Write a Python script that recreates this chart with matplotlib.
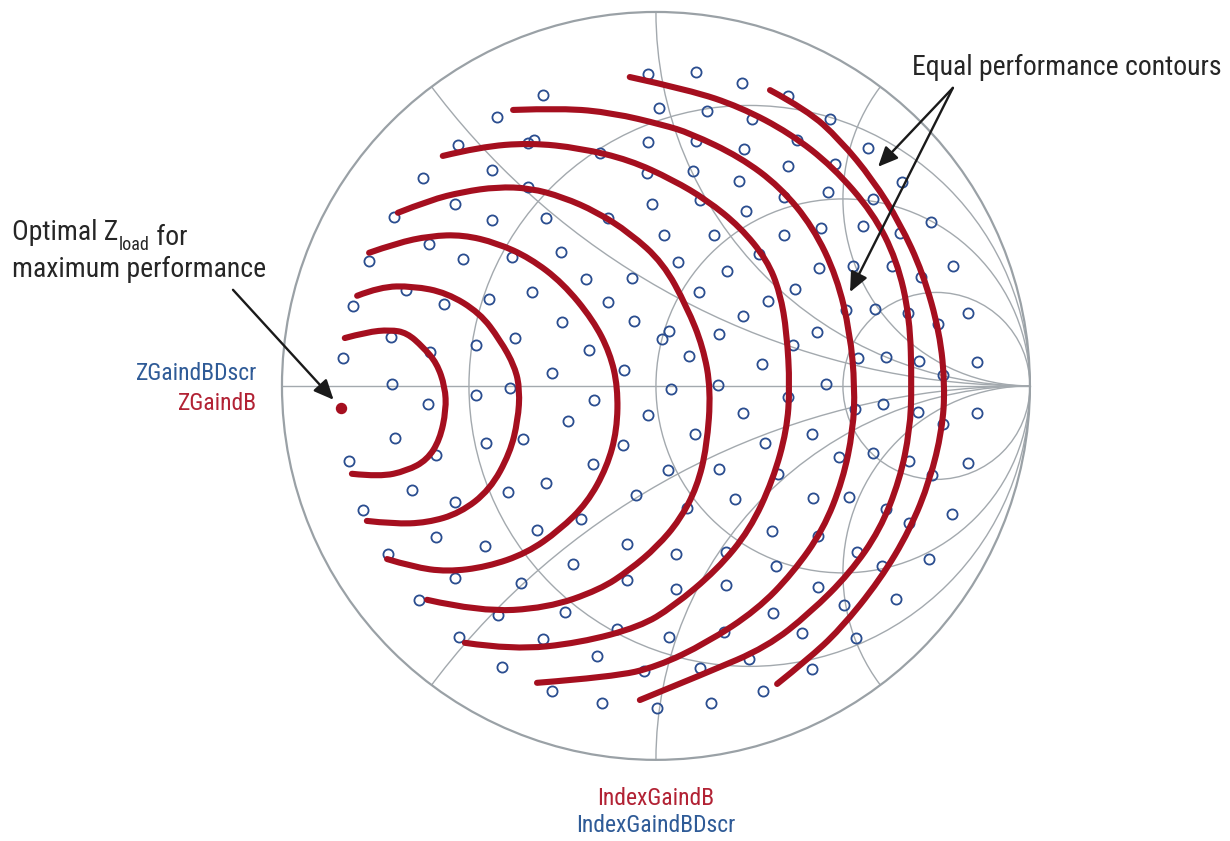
import numpy as np
import matplotlib
matplotlib.use('Agg')
import matplotlib.pyplot as plt
from matplotlib import font_manager
from matplotlib.patches import Circle, PathPatch
from matplotlib.path import Path


def find_condensed():
    # look for any narrow / condensed sans face among the installed fonts
    prefs = ['Liberation Sans Narrow', 'Roboto Condensed', 'Open Sans Condensed',
             'Noto Sans', 'DejaVu Sans', 'Roboto', 'Open Sans']
    best = None
    for f in font_manager.fontManager.ttflist:
        tag = (f.name + ' ' + f.fname).lower()
        narrow = f.stretch in ('condensed', 'semi-condensed') or 'narrow' in tag or \
            ('condensed' in tag and 'extra' not in tag and 'ultra' not in tag)
        if not narrow or f.style != 'normal':
            continue
        if f.weight not in (400, 'normal', 'regular'):
            continue
        rank = len(prefs)
        for i, p in enumerate(prefs):
            if f.name.startswith(p):
                rank = i
                break
        if best is None or rank < best[0]:
            best = (rank, f.fname)
    return best[1] if best else None


cond_file = find_condensed()
if cond_file:
    big = font_manager.FontProperties(fname=cond_file, size=20)
    small = font_manager.FontProperties(fname=cond_file, size=17)
    sub = font_manager.FontProperties(fname=cond_file, size=13)
else:
    big = font_manager.FontProperties(family='Liberation Sans', size=16.5)
    small = font_manager.FontProperties(family='Liberation Sans', size=14)
    sub = font_manager.FontProperties(family='Liberation Sans', size=11)

# smith chart grid values
r_grid = [1 / 3, 1, 3]
x_grid = [0.5, 1, 2]

# measured load points (reflection coefficient, real / imag)
load_re = [-0.021, -0.302, 0.008, -0.425, -0.326, -0.342, -0.529, -0.021, -0.150, -0.439,
           -0.623, -0.024, -0.342, -0.537, -0.011, -0.439, -0.701, -0.294, -0.128, 0.021,
           -0.607, -0.516, -0.767, -0.254, -0.385, 0.059, -0.187, -0.064, -0.668, -0.332,
           -0.447, -0.567, -0.810, -0.128, -0.251, -0.059, 0.035, 0.016, -0.709, -0.377,
           -0.481, -0.604, -0.179, -0.837, -0.086, -0.278, -0.706, 0.040, -0.390, -0.481,
           -0.166, -0.610,
           -0.021, -0.235, -0.698, -0.455, -0.356, -0.088, -0.588, -0.821, -0.168, 0.032,
           -0.396, -0.652, -0.537, -0.294, -0.053, -0.783, -0.201, -0.318, -0.588, -0.457,
           -0.078, 0.053, -0.717, -0.222, -0.537, -0.361, -0.078, 0.053, -0.634, -0.422,
           -0.243, -0.104, -0.527, -0.302, 0.035, -0.158, -0.412, -0.032, -0.278, -0.144,
           0.003,
           0.107, 0.230, 0.353, 0.136, 0.257, 0.465, 0.107, 0.377, 0.235, 0.567,
           0.353, 0.479, 0.099, 0.222, 0.658, 0.342, 0.460, 0.118, 0.241, 0.580,
           0.735, 0.441, 0.553, 0.652, 0.155, 0.342, 0.275, 0.190, 0.436, 0.527,
           0.631, 0.794, 0.709, 0.115, 0.372, 0.299, 0.508, 0.586, 0.674, 0.834,
           0.233, 0.168, 0.430, 0.754, 0.366, 0.088, 0.283, 0.540, 0.615, 0.703,
           0.858, 0.767, 0.166, 0.455, 0.353,
           0.233, 0.532, 0.607, 0.701, 0.858, 0.767, 0.104, 0.291, 0.417, 0.489,
           0.580, 0.676, 0.834, 0.738, 0.168, 0.326, 0.083, 0.211, 0.420, 0.516,
           0.615, 0.676, 0.791, 0.310, 0.433, 0.187, 0.321, 0.537, 0.604, 0.730,
           0.187, 0.433, 0.503, 0.642, 0.313, 0.182, 0.390, 0.535, 0.118, 0.249,
           0.417, 0.286, 0.147]
load_im = [0.834, 0.778, 0.743, 0.719, 0.658, 0.650, 0.644, 0.652, 0.623, 0.578,
           0.556, 0.570, 0.532, 0.487, 0.487, 0.444, 0.452, 0.449, 0.449, 0.404,
           0.380, 0.340, 0.334, 0.358, 0.345, 0.332, 0.286, 0.289, 0.257, 0.251,
           0.233, 0.219, 0.214, 0.225, 0.171, 0.174, 0.147, 0.126, 0.131, 0.128,
           0.110, 0.091, 0.096, 0.075, 0.043, 0.035, 0.005, -0.008, -0.005, -0.024,
           -0.037, -0.048,
           -0.078, -0.094, -0.139, -0.152, -0.142, -0.158, -0.184, -0.201, -0.209, -0.225,
           -0.283, -0.278, -0.310, -0.259, -0.291, -0.332, -0.356, -0.385, -0.404, -0.428,
           -0.422, -0.449, -0.449, -0.476, -0.513, -0.527, -0.519, -0.543, -0.572, -0.612,
           -0.604, -0.650, -0.671, -0.676, -0.671, -0.722, -0.751, -0.762, -0.816, -0.848,
           -0.861,
           0.840, 0.810, 0.775, 0.735, 0.714, 0.714, 0.655, 0.658, 0.634, 0.636,
           0.588, 0.594, 0.575, 0.548, 0.545, 0.505, 0.519, 0.497, 0.468, 0.500,
           0.439, 0.422, 0.428, 0.409, 0.404, 0.404, 0.353, 0.307, 0.316, 0.321,
           0.321, 0.321, 0.291, 0.251, 0.259, 0.227, 0.203, 0.206, 0.195, 0.195,
           0.187, 0.139, 0.144, 0.166, 0.110, 0.080, 0.059, 0.075, 0.078, 0.067,
           0.064, 0.029, 0.003, 0.005, -0.029,
           -0.072, -0.061, -0.048, -0.070, -0.072, -0.102, -0.128, -0.152, -0.128, -0.190,
           -0.179, -0.201, -0.206, -0.238, -0.222, -0.235, -0.326, -0.302, -0.299, -0.297,
           -0.329, -0.366, -0.342, -0.388, -0.401, -0.444, -0.481, -0.444, -0.481, -0.463,
           -0.532, -0.537, -0.586, -0.570, -0.607, -0.658, -0.660, -0.674, -0.754, -0.730,
           -0.757, -0.816, -0.848]

# optimum load
opt_re = -0.842
opt_im = -0.059

# equal performance contours (innermost first)
c1_re = [-0.832, -0.773, -0.711, -0.666, -0.623, -0.586, -0.564, -0.561, -0.578, -0.612, -0.666, -0.738, -0.813]
c1_im = [0.128, 0.144, 0.150, 0.142, 0.104, 0.061, -0.003, -0.064, -0.144, -0.198, -0.227, -0.243, -0.235]
c2_re = [-0.799, -0.738, -0.650, -0.559, -0.471, -0.417, -0.377, -0.364, -0.369, -0.390, -0.444, -0.524, -0.612, -0.703, -0.773]
c2_im = [0.241, 0.265, 0.267, 0.249, 0.195, 0.123, 0.051, -0.011, -0.091, -0.179, -0.278, -0.340, -0.366, -0.369, -0.361]
c3_re = [-0.767, -0.693, -0.604, -0.516, -0.425, -0.337, -0.249, -0.168, -0.123, -0.102, -0.104, -0.131, -0.184,
         -0.257, -0.345, -0.452, -0.559, -0.650, -0.719]
c3_im = [0.356, 0.382, 0.401, 0.404, 0.382, 0.342, 0.275, 0.176, 0.088, -0.003, -0.118, -0.217, -0.313,
         -0.385, -0.447, -0.484, -0.497, -0.484, -0.463]
c4_re = [-0.690, -0.604, -0.516, -0.425, -0.337, -0.249, -0.158, -0.070, 0.019, 0.083, 0.126, 0.147, 0.136,
         0.110, 0.064, 0.003, -0.070, -0.150, -0.291, -0.471, -0.612]
c4_im = [0.463, 0.497, 0.519, 0.532, 0.529, 0.505, 0.465, 0.409, 0.329, 0.211, 0.104, -0.011, -0.163,
         -0.270, -0.358, -0.430, -0.492, -0.545, -0.594, -0.604, -0.572]
c5_re = [-0.570, -0.471, -0.337, -0.203, -0.070, 0.045, 0.136, 0.225, 0.297, 0.332, 0.350, 0.358, 0.350,
         0.313, 0.251, 0.163, 0.045, -0.043, -0.203, -0.382, -0.511]
c5_im = [0.615, 0.639, 0.650, 0.636, 0.604, 0.551, 0.497, 0.425, 0.337, 0.249, 0.142, -0.003, -0.118,
         -0.251, -0.385, -0.492, -0.591, -0.644, -0.687, -0.706, -0.687]
c6_re = [-0.382, -0.249, -0.115, 0.019, 0.091, 0.225, 0.332, 0.420, 0.484, 0.519, 0.532, 0.527, 0.500,
         0.447, 0.366, 0.270, 0.136, 0.003, -0.115, -0.318]
c6_im = [0.738, 0.743, 0.730, 0.698, 0.676, 0.612, 0.532, 0.425, 0.291, 0.142, -0.003, -0.118, -0.251,
         -0.385, -0.500, -0.599, -0.687, -0.751, -0.778, -0.794]
c7_re = [-0.070, 0.091, 0.225, 0.358, 0.473, 0.580, 0.644, 0.679, 0.684, 0.679, 0.652, 0.599, 0.519,
         0.412, 0.297, 0.136, -0.043]
c7_im = [0.826, 0.791, 0.746, 0.676, 0.586, 0.463, 0.337, 0.184, -0.003, -0.118, -0.251, -0.385, -0.500,
         -0.607, -0.698, -0.767, -0.840]
c8_re = [0.305, 0.404, 0.492, 0.580, 0.652, 0.714, 0.759, 0.773, 0.765, 0.733, 0.679, 0.599, 0.492, 0.404, 0.324]
c8_im = [0.791, 0.738, 0.658, 0.551, 0.436, 0.302, 0.142, -0.003, -0.118, -0.251, -0.385, -0.519, -0.652, -0.733, -0.797]

contours = [(c1_re, c1_im), (c2_re, c2_im), (c3_re, c3_im), (c4_re, c4_im),
            (c5_re, c5_im), (c6_re, c6_im), (c7_re, c7_im), (c8_re, c8_im)]

red = '#a50f1f'
blue = '#2a4d8f'
grid_c = '#a3a9ae'
ink = '#262626'


def smooth(xs, ys):
    # quadratic bezier path through the measured points
    pts = np.column_stack([xs, ys])
    verts = [pts[0]]
    codes = [Path.MOVETO]
    for i in range(1, len(pts) - 1):
        end = pts[-1] if i == len(pts) - 2 else (pts[i] + pts[i + 1]) / 2
        verts += [pts[i], end]
        codes += [Path.CURVE3, Path.CURVE3]
    return Path(verts, codes)


fig = plt.figure(figsize=(12.3, 8.41), dpi=100)
ax = fig.add_axes([0, 0, 1, 1])
ax.set_xlim(-1.754, 1.535)
ax.set_ylim(-1.217, 1.032)
ax.axis('off')

# grid
ax.plot([-1, 1], [0, 0], color=grid_c, lw=1.0, zorder=1)
for r in r_grid:
    ax.add_patch(Circle((r / (1 + r), 0), 1 / (1 + r), fill=False, ec=grid_c, lw=1.0, zorder=1))
clip = Circle((0, 0), 1, transform=ax.transData)
for x in x_grid:
    for s in (1, -1):
        arc = Circle((1, s / x), 1 / x, fill=False, ec=grid_c, lw=1.0, zorder=1)
        ax.add_patch(arc)
        arc.set_clip_path(clip)
ax.add_patch(Circle((0, 0), 1, fill=False, ec='#9aa1a6', lw=1.6, zorder=1))

# load points
ax.plot(load_re, load_im, 'o', ls='none', ms=7.3, mfc='none', mec=blue, mew=1.3, zorder=2)

# contours
for re, im in contours:
    ax.add_patch(PathPatch(smooth(re, im), fill=False, ec=red, lw=4.4,
                           capstyle='round', joinstyle='round', zorder=3))

ax.plot(opt_re, opt_im, 'o', ms=7.2, color=red, zorder=4)

# labels
t1 = ax.text(-1.722, 0.390, 'Optimal Z', fontproperties=big, color=ink, ha='left', va='baseline')
t2 = ax.annotate('load', xy=(1, 0), xycoords=t1, xytext=(0.5, -3), textcoords='offset points',
                 fontproperties=sub, color=ink, ha='left', va='baseline')
ax.annotate(' for', xy=(1, 0), xycoords=t2, xytext=(0, 7), textcoords='offset points',
            fontproperties=big, color=ink, ha='left', va='baseline')
ax.text(-1.722, 0.291, 'maximum performance', fontproperties=big, color=ink, ha='left', va='baseline')
ax.text(0.684, 0.832, 'Equal performance contours', fontproperties=big, color=ink, ha='left', va='baseline')

ax.text(-1.067, 0.016, 'ZGaindBDscr', fontproperties=small, color='#2f5b97', ha='right', va='baseline')
ax.text(-1.067, -0.064, 'ZGaindB', fontproperties=small, color='#b22234', ha='right', va='baseline')
ax.text(0.0, -1.120, 'IndexGaindB', fontproperties=small, color='#b22234', ha='center', va='baseline')
ax.text(0.0, -1.193, 'IndexGaindBDscr', fontproperties=small, color='#2f5b97', ha='center', va='baseline')

# arrows
aprops = dict(arrowstyle='-|>,head_length=0.6,head_width=0.27', color='#1a1a1a', lw=1.7,
              mutation_scale=20, shrinkA=0, shrinkB=0)
ax.annotate('', xy=(opt_re, opt_im), xytext=(-1.131, 0.257),
            arrowprops=dict(aprops, shrinkB=8), zorder=5)
ax.annotate('', xy=(0.594, 0.586), xytext=(0.794, 0.797), arrowprops=aprops, zorder=5)
ax.annotate('', xy=(0.519, 0.251), xytext=(0.794, 0.797), arrowprops=aprops, zorder=5)

fig.savefig('out.png', dpi=100, facecolor='white')
